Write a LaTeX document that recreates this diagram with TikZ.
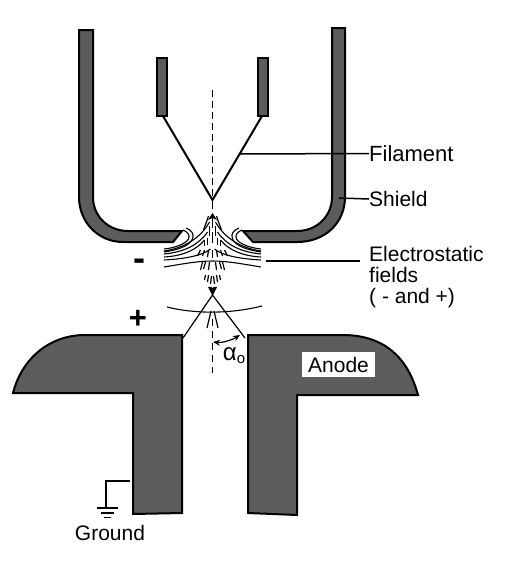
\documentclass[tikz,border=0pt]{standalone}
\usepackage{fontspec}
\setmainfont{Liberation Sans}
\usetikzlibrary{arrows.meta}
\definecolor{metal}{gray}{0.36}
\tikzset{
  metalpart/.style={draw=black,fill=metal,line width=2pt,line join=miter},
  leader/.style={draw=black,line width=1.5pt},
  wire/.style={draw=black,line width=2pt},
  field/.style={draw=black,line width=1.1pt},
  beam/.style={draw=black,line width=1.2pt},
  label/.style={font=\fontsize{21}{21}\selectfont,inner sep=0pt,align=left},
}
\begin{document}
\begin{tikzpicture}[x=1pt,y=-1pt]
\useasboundingbox (0,0) rectangle (508,581);
% shield
\path[metalpart] (79,30)--(93,30)--(93,197) .. controls (93,216) and (108,231) .. (128,231)
  --(182,231)--(173,242)--(123,242) .. controls (98,242) and (79,222) .. (79,197)--cycle;
\path[metalpart] (345,28)--(332,28)--(332,197) .. controls (332,216) and (317,231) .. (297,231)
  --(243,231)--(253,242)--(297,242) .. controls (326,242) and (345,222) .. (345,197)--cycle;
% filament posts
\path[metalpart] (157,58) rectangle (167,116);
\path[metalpart] (258,58) rectangle (268,116);
% anode
\path[metalpart] (13,393) .. controls (22,358) and (50,335) .. (85,335)--(182,335)--(182,513)--(133,514)--(133,393)--cycle;
\path[metalpart] (418,395) .. controls (408,358) and (385,336) .. (345,335)--(248,335)--(248,513)--(297,515)--(297,395)--cycle;
\node[fill=white,minimum width=73pt,minimum height=25pt,inner sep=0pt] (anode) at (338.5,364.5) {};
\node[label] (anodetext) at (338.5,365) {Anode};
% axis
\coordinate (axtop) at (212.5,90);
\coordinate (axbot) at (212.5,200);
\draw[black,line width=1.3pt,dash pattern=on 7pt off 4pt] (axtop)--(axbot);
\draw[black,line width=1.3pt,dash pattern=on 7pt off 5pt] (212.5,319)--(212.5,373);
% filament
\coordinate (fa) at (163,116);\coordinate (fb) at (212.5,200);\coordinate (fc) at (262,116);
\draw[wire,line join=miter] (fa)--(fb)--(fc);
\draw[black,line width=1.3pt] (212.5,200)--(212.5,209);
% labels and leaders
\node[label,anchor=west,font=\fontsize{22}{22}\selectfont] (fil) at (369,153.5) {Filament};
\node[label,anchor=west] (shi) at (369,199) {Shield};
\node[label,anchor=base west] (ele) at (369,261) {Electrostatic};
\node[label,anchor=base west] (ele2) at (369,282) {fields};
\node[label,anchor=base west] (ele3) at (369,303) {( - and +)};
\coordinate (fl) at (240,154);
\draw[leader] (fl)--(fil.west);
\coordinate (sl) at (339,198);
\draw[leader] (sl)--(shi.west);
\coordinate (el) at (266,261);
\draw[leader] (el)--(360,261);
\node[font=\fontsize{31}{31}\selectfont\bfseries,inner sep=0pt] (plus) at (138,319) {+};
\node[font=\fontsize{36}{36}\selectfont\bfseries,inner sep=0pt] (minus) at (139,265) {-};
% field lines right and left
\foreach \s in {1,-1}{
 \begin{scope}[shift={(212.5,0)},xscale=\s]
  \draw[field] (48.5,251) .. controls (28,248) and (12,238) .. (3,222);
  \draw[field] (48.5,254) .. controls (28,252) and (14,245) .. (5,232);
  \draw[field] (48.5,257) .. controls (30,256) and (16,250) .. (8,240);
  \draw[field] (48.5,260) .. controls (30,259) and (10,256) .. (2,249);
  \draw[field] (48.5,267) .. controls (30,264) and (15,261) .. (0,261);
  \draw[field] (48.5,252) .. controls (35,250) and (23,246) .. (20,239)
     .. controls (18,234) and (21,230) .. (26.5,228);
  \draw[field] (48.5,249) .. controls (38,248) and (27,244) .. (24,239)
     .. controls (22,235) and (25,232) .. (29.5,230);
  % beam dashes
  \draw[beam] (4,216)--(6,222);
  \draw[beam] (6,222)--(9,230);
  \draw[beam] (3,226)--(3,236);
  \draw[beam] (8,240)--(8,246);
  \draw[beam] (5,238)--(5,245);
  \draw[beam] (8,250)--(10,256);
  \draw[beam] (4,250)--(5,257);
  \draw[beam] (12,250)--(15,256);
  \draw[beam] (7,262)--(9,269);
  \draw[beam] (3,262)--(4,270);
  \draw[beam] (10,262)--(12,270);
  \draw[beam] (1,276)--(2,284);
  \draw[beam] (4,275)--(5,282);
  \draw[beam] (7,275)--(8,280);
  \end{scope}
}
\fill[black] (212.5,213)--(217,220)--(212.5,218)--(208,220)--cycle;
\draw[black,line width=1.3pt] (212.5,218)--(212.5,228) (212.5,232)--(212.5,243) (212.5,250)--(212.5,258);
\fill[black] (208,287) .. controls (210,286) and (212,287) .. (212.5,288) .. controls (213,287) and (215,286) .. (217,287) -- (212.5,296)--cycle;
% lower arc and cone
\draw[field] (167,307) .. controls (195,314) and (230,314) .. (262,306);
\coordinate (apex) at (212.5,295);
\coordinate (cl) at (183,338);\coordinate (cr) at (245,338);
\draw[beam,line join=miter] (cl)--(apex)--(cr);
\draw[beam] (207,328)--(211,311);
\draw[beam] (218,328)--(214,311);
% angle
\coordinate (al) at (213,342);\coordinate (ar) at (240,335);
\draw[beam,{Stealth[length=7pt,width=6pt]}-{Stealth[length=7pt,width=6pt]}] (al) .. controls (222,343) and (232,340) .. (ar);
\node[inner sep=0pt] (alpha) at (234,356) {\fontsize{24}{24}\selectfont α\raisebox{-3pt}{\fontsize{15}{15}\selectfont o}};
% ground
\coordinate (g0) at (130,481);\coordinate (g1) at (106,481);\coordinate (g2) at (106,508);
\draw[leader,line join=miter] (g0)--(g1)--(g2);
\draw[leader] (97,508)--(118,508) (101,513)--(114,513) (104,517.5)--(111,517.5);
\node[label] (gnd) at (110,533) {Ground};
\end{tikzpicture}
\end{document}
